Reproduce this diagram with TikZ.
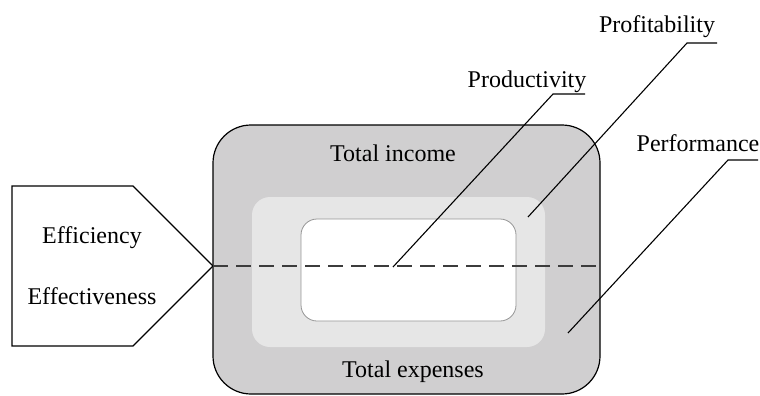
\documentclass[tikz,border=0pt]{standalone}
\usepackage{fontspec}
\setmainfont{Liberation Serif}
\usepackage{xcolor}
\usepackage{tikz}
\usetikzlibrary{positioning}
\definecolor{outerfill}{RGB}{208,207,208}
\definecolor{midfill}{RGB}{230,230,230}
\definecolor{innerline}{RGB}{150,150,150}
\definecolor{splitline}{RGB}{60,60,60}
\tikzset{
  lbl/.style={font=\fontsize{24}{28}\selectfont,inner sep=0pt},
  box/.style={rounded corners=#1,inner sep=0pt},
  leader/.style={line width=1.1pt,black},
  split/.style={line width=1.8pt,splitline,dash pattern=on 15pt off 8pt},
  frame/.style={line width=1.2pt,black}
}

\begin{document}
\begin{tikzpicture}[x=1pt,y=-1pt]
\useasboundingbox (0,0) rectangle (760,396);
% income / expenses boxes
\node[box=38pt,frame,draw,fill=outerfill,minimum width=387pt,minimum height=269pt] (outer) at (406.5,259.5) {};
\node[box=18pt,fill=midfill,minimum width=293pt,minimum height=150pt] (mid) at (398.5,272) {};
\node[box=16pt,draw=innerline,line width=0.8pt,fill=white,minimum width=215pt,minimum height=102pt] (inner) at (408.5,270) {};
\node[lbl] (income) at (393,153) {Total income};
\node[lbl] (expenses) at (413,372) {Total expenses};
% pentagon on the left
\coordinate (tip) at (213,266);
\draw[frame] (12,186) -- (133,186) -- (tip) -- (133,346) -- (12,346) -- cycle;
\node[lbl] (effic) at (92,238) {Efficiency};
\node[lbl] (effect) at (92,296) {Effectiveness};
\draw[split] (tip) -- (tip -| outer.east);
% labels with leaders
\node[lbl,anchor=base] (prod) at (527,88) {Productivity};
\node[lbl,anchor=base] (prof) at (657,33) {Profitability};
\node[lbl,anchor=base] (perf) at (698,151) {Performance};
\coordinate (produl) at (585,94);  \coordinate (prodtip) at (393,267);
\coordinate (proful) at (717,43);  \coordinate (proftip) at (528,217);
\coordinate (perful) at (758,160); \coordinate (perftip) at (568,333);
\draw[leader] (produl) -- ++(-32,0) -- (prodtip);
\draw[leader] (proful) -- ++(-30,0) -- (proftip);
\draw[leader] (perful) -- ++(-30,0) -- (perftip);
\end{tikzpicture}
\end{document}
